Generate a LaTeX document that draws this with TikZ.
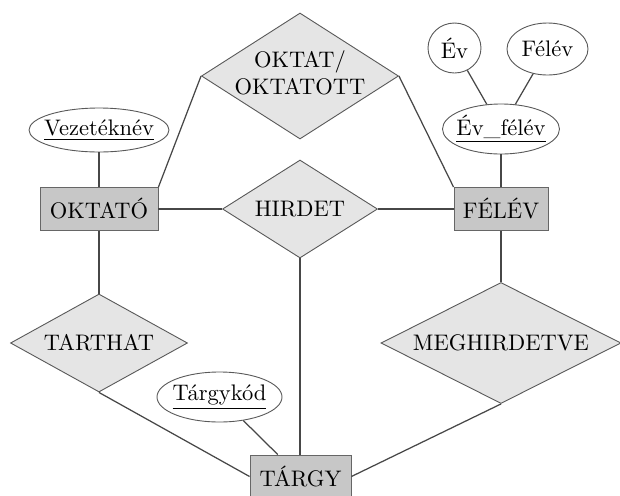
\documentclass[tikz,border=0pt]{standalone}
\usetikzlibrary{shapes.geometric}
\newcommand{\zw}[1]{\makebox[0pt]{#1}}
\begin{document}
\begin{tikzpicture}[x=0.4444pt,y=-0.4444pt,
  entity/.style={rectangle,draw=black!60,fill=black!22,inner sep=0pt,minimum height=19.11pt},
  rel/.style={diamond,draw=black!65,fill=black!10,inner sep=0pt},
  attr/.style={ellipse,draw=black!65,fill=white,inner sep=0pt},
  conn/.style={draw=black!72,line width=0.55pt}]
\path[use as bounding box,fill=white] (0,0) rectangle (620,496);
% relationships
\node[rel,minimum width=87.55pt,minimum height=56pt] (oktat) at (300,76)
  {\zw{\begin{tabular}{@{}c@{}}OKTAT/\\OKTATOTT\end{tabular}}};
\node[rel,minimum width=68.88pt,minimum height=43.55pt] (hirdet) at (300,209) {\zw{HIRDET}};
\node[rel,minimum width=78.66pt,minimum height=43.55pt] (tarthat) at (99,343) {\zw{TARTHAT}};
\node[rel,minimum width=106.66pt,minimum height=53.77pt] (meg) at (501,343) {\zw{MEGHIRDETVE}};
% entities
\node[entity,minimum width=52.44pt] (oktato) at (99,209) {OKTATÓ};
\node[entity,minimum width=41.77pt] (felev) at (501,209) {FÉLÉV};
\node[entity,minimum width=44.88pt] (targy) at (300.5,476.5) {TÁRGY};
% attributes
\node[attr,minimum width=62.22pt,minimum height=19.55pt] (vez) at (99,130) {\zw{\underline{Vezetéknév}}};
\node[attr,minimum width=52pt,minimum height=22.22pt] (evfelev) at (501,129) {\zw{\underline{Év\_félév}}};
\node[attr,minimum width=23.55pt,minimum height=22.22pt] (ev) at (454.5,48) {\zw{Év}};
\node[attr,minimum width=36pt,minimum height=23.11pt] (felevattr) at (547.5,49) {\zw{Félév}};
\node[attr,minimum width=55.55pt,minimum height=22.22pt] (tkod) at (219.5,397) {\zw{\underline{Tárgykód}}};
% connectors
\draw[conn] (vez.south) -- (oktato.north);
\draw[conn] (oktato.east) -- (hirdet.west);
\draw[conn] (hirdet.east) -- (felev.west);
\draw[conn] (oktat.west) -- (oktato.north east);
\draw[conn] (oktat.east) -- (felev.north west);
\draw[conn] (oktato.south) -- (tarthat.north);
\draw[conn] (tarthat.south) -- (targy.west);
\draw[conn] (felev.south) -- (meg.north);
\draw[conn] (meg.south) -- (targy.east);
\draw[conn] (hirdet.south) -- (hirdet.south |- targy.north);
\draw[conn] (tkod) -- (targy.136);
\draw[conn] (evfelev.south) -- (felev.north);
\draw[conn] (ev) -- (evfelev);
\draw[conn] (felevattr) -- (evfelev);
\end{tikzpicture}
\end{document}
